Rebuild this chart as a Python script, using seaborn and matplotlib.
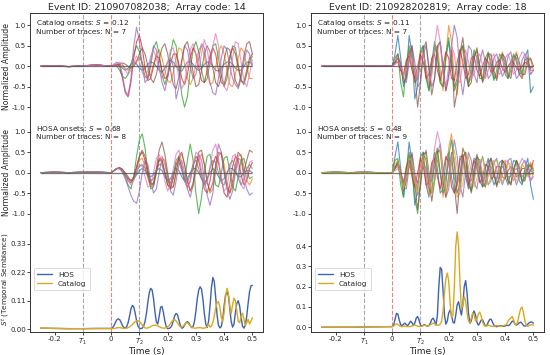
import numpy as np
import pandas as pd
import matplotlib
matplotlib.use("Agg")
import matplotlib.pyplot as plt
import seaborn as sns

sns.set_theme(style="ticks")
plt.rcParams['font.family'] = ['DejaVu Sans']

# ---------------- data ----------------
titles = ["Event ID: 210907082038;  Array code: 14",
          "Event ID: 210928202819;  Array code: 18"]
cat_text = ["Catalog onsets: $S$ = 0.12\nNumber of traces: N = 7",
            "Catalog onsets: $S$ = 0.11\nNumber of traces: N = 7"]
hos_text = ["HOSA onsets: $S$ = 0.68\nNumber of traces: N = 8",
            "HOSA onsets: $S$ = 0.48\nNumber of traces: N = 9"]

t_pre = [-0.25, -0.2, -0.15, -0.1, -0.05]
trace_step = 0.01
n_trace = 51
sem_step = 0.005
n_sem = 101

T1, T0, T2 = -0.1, 0.0, 0.1
xtick_vals = [-0.2, -0.1, 0.0, 0.1, 0.2, 0.3, 0.4, 0.5]
xtick_labels = ["-0.2", "$T_1$", "0", "$T_2$", "0.2", "0.3", "0.4", "0.5"]

pre_LT = [0.0, 0.01, -0.01, 0.01, 0.03]
LT = {
 "blue":   [0, 0.02, 0.05, 0.03, -0.05, -0.1, -0.05, 0.05, 0.1, 0.05, -0.05, -0.1, -0.05, 0.05, 0.1, 0.08, 0.0, -0.1, -0.15, -0.05, 0.1, 0.15, 0.1, 0.0, -0.1, -0.12, 0.0, 0.1, 0.12, 0.05, -0.05, -0.1, -0.05, 0.05, 0.1, 0.1, 0.0, -0.1, -0.12, -0.05, 0.05, 0.1, 0.1, 0.05, -0.05, -0.1, -0.1, 0.0, 0.1, 0.1, 0.05],
 "orange": [0, 0.0, 0.03, 0.05, 0.02, -0.05, -0.1, -0.05, 0.05, 0.15, 0.2, 0.1, -0.1, -0.25, -0.2, 0.05, 0.3, 0.4, 0.2, -0.1, -0.35, -0.4, -0.15, 0.2, 0.45, 0.4, 0.05, -0.3, -0.45, -0.3, 0.05, 0.4, 0.5, 0.25, -0.15, -0.45, -0.4, -0.05, 0.35, 0.5, 0.3, -0.1, -0.45, -0.5, -0.2, 0.2, 0.45, 0.35, 0.0, -0.3, -0.3],
 "green":  [0, 0.02, 0.0, -0.1, -0.25, -0.3, -0.2, 0.05, 0.3, 0.5, 0.35, 0.05, -0.25, -0.3, 0.0, 0.45, 0.6, 0.3, -0.2, -0.45, -0.2, 0.3, 0.65, 0.5, -0.1, -0.7, -1.0, -0.75, -0.1, 0.4, 0.6, 0.35, -0.1, -0.4, -0.3, 0.1, 0.5, 0.55, 0.2, -0.25, -0.5, -0.3, 0.15, 0.5, 0.45, 0.05, -0.35, -0.45, -0.2, 0.1, 0.25],
 "red":    [0, 0.02, 0.05, 0.0, -0.3, -0.65, -0.75, -0.4, 0.2, 0.6, 0.75, 0.45, -0.05, -0.35, -0.3, 0.0, 0.25, 0.2, -0.1, -0.3, -0.25, 0.05, 0.3, 0.3, 0.05, -0.3, -0.45, -0.2, 0.2, 0.45, 0.3, -0.05, -0.35, -0.4, -0.1, 0.25, 0.45, 0.3, -0.1, -0.4, -0.45, -0.15, 0.25, 0.45, 0.3, -0.05, -0.35, -0.4, -0.1, 0.2, 0.3],
 "purple": [0, 0.05, 0.1, 0.05, -0.2, -0.6, -0.7, -0.3, 0.5, 0.95, 0.6, 0.0, -0.4, -0.3, 0.15, 0.5, 0.4, 0.0, -0.4, -0.6, -0.3, 0.2, 0.0, -0.8, -0.5, 0.1, 0.5, 0.4, 0.0, -0.3, -0.2, 0.2, 0.55, 0.45, 0.0, -0.4, -0.65, -0.7, -0.3, 0.2, 0.5, 0.4, 0.0, -0.3, -0.45, -0.55, -0.3, 0.1, 0.4, 0.3, 0.0],
 "brown":  [0, 0.0, 0.02, 0.05, 0.08, 0.05, 0.0, -0.05, 0.0, 0.1, 0.3, 0.45, 0.3, 0.0, -0.3, -0.4, -0.2, 0.15, 0.45, 0.55, 0.3, -0.1, -0.45, -0.55, -0.25, 0.15, 0.5, 0.6, 0.3, -0.15, -0.5, -0.45, -0.1, 0.3, 0.5, 0.35, -0.05, -0.4, -0.5, -0.25, 0.15, 0.45, 0.4, 0.05, -0.35, -0.5, -0.2, 0.25, 0.55, 0.6, 0.3],
 "pink":   [0, 0.02, 0.05, 0.1, 0.05, -0.1, -0.2, -0.1, 0.1, 0.25, 0.1, -0.15, -0.3, -0.1, 0.25, 0.4, 0.2, -0.1, -0.3, -0.2, 0.1, 0.4, 0.45, 0.1, -0.3, -0.55, -0.4, 0.0, 0.4, 0.55, 0.3, -0.1, 0.3, 0.65, 0.4, 0.0, 0.5, 0.8, 0.5, -0.05, -0.5, -0.6, -0.3, 0.2, 0.6, 0.55, 0.1, -0.35, -0.5, -0.2, 0.15],
}

pre_LM = [0.0, 0.01, 0.0, 0.01, 0.01]
LM = {
 "blue":   [0, 0.05, 0.1, 0.1, 0.05, -0.05, -0.15, -0.2, -0.15, -0.05, 0.05, 0.1, 0.05, -0.05, -0.1, -0.05, 0.05, 0.1, 0.05, -0.1, -0.2, -0.15, 0.0, 0.1, 0.05, -0.1, -0.2, -0.15, 0.0, 0.1, 0.1, 0.0, -0.15, -0.25, -0.15, 0.0, 0.1, 0.05, -0.1, -0.2, -0.15, 0.0, 0.1, 0.1, 0.0, -0.1, -0.1, 0.0, 0.05, 0.05, 0.0],
 "orange": [0, 0.04, 0.1, 0.12, 0.06, -0.05, -0.15, -0.2, -0.1, 0.1, 0.3, 0.35, 0.15, -0.15, -0.35, -0.3, 0.0, 0.3, 0.4, 0.2, -0.15, -0.4, -0.35, 0.0, 0.35, 0.45, 0.2, -0.2, -0.45, -0.35, 0.0, 0.35, 0.45, 0.2, -0.2, -0.5, -0.4, 0.0, 0.4, 0.5, 0.2, -0.25, -0.5, -0.35, 0.05, 0.4, 0.45, 0.15, -0.2, -0.3, -0.15],
 "green":  [0, 0.05, 0.1, 0.1, 0.05, -0.1, -0.3, -0.4, -0.1, 0.4, 0.8, 0.95, 0.6, 0.0, -0.4, -0.35, 0.0, 0.3, 0.3, 0.0, -0.3, -0.35, -0.05, 0.3, 0.4, 0.1, -0.2, 0.3, 0.7, 0.3, -0.5, -1.0, -0.6, 0.0, 0.4, 0.45, 0.1, -0.3, -0.35, 0.0, 0.35, 0.4, 0.05, -0.35, -0.45, -0.1, 0.3, 0.35, 0.05, -0.15, -0.1],
 "red":    [0, 0.05, 0.1, 0.12, 0.08, -0.05, -0.2, -0.25, -0.1, 0.15, 0.4, 0.5, 0.3, -0.05, -0.3, -0.25, 0.05, 0.35, 0.3, 0.0, -0.3, -0.4, -0.15, 0.2, 0.35, 0.15, -0.2, -0.35, -0.2, 0.15, 0.4, 0.3, -0.05, -0.4, -0.5, -0.2, 0.2, 0.4, 0.25, -0.15, -0.5, -0.6, -0.3, 0.15, 0.4, 0.3, -0.05, -0.3, -0.2, 0.1, 0.25],
 "purple": [0, 0.05, 0.1, 0.1, 0.0, -0.15, -0.35, -0.55, -0.7, -0.75, -0.45, 0.0, 0.3, 0.2, -0.2, -0.5, -0.4, 0.0, 0.35, 0.3, -0.1, -0.45, -0.55, -0.2, 0.2, 0.3, 0.0, -0.4, -0.6, -0.3, 0.15, 0.45, 0.3, -0.15, -0.55, -0.8, -0.5, 0.2, 0.7, 0.5, 0.0, -0.4, -0.65, -0.45, 0.0, 0.35, 0.3, -0.1, -0.4, -0.55, -0.5],
 "brown":  [0, 0.05, 0.1, 0.12, 0.08, 0.0, -0.1, -0.2, -0.15, 0.1, 0.4, 0.55, 0.4, 0.05, -0.25, -0.3, 0.1, 0.55, 0.75, 0.45, 0.0, -0.35, -0.35, 0.0, 0.4, 0.5, 0.2, -0.2, -0.45, -0.25, 0.15, 0.5, 0.55, 0.2, -0.25, -0.45, -0.25, 0.15, 0.5, 0.45, 0.05, -0.35, -0.5, -0.2, 0.2, 0.5, 0.4, 0.0, 0.3, 0.55, 0.5],
 "pink":   [0, 0.05, 0.1, 0.1, 0.05, -0.05, -0.2, -0.3, -0.2, 0.05, 0.2, 0.15, -0.1, -0.35, -0.3, 0.0, 0.35, 0.45, 0.2, -0.2, -0.45, -0.3, 0.1, 0.45, 0.55, 0.2, -0.2, -0.4, -0.2, 0.2, 0.5, 0.45, 0.05, -0.3, -0.25, 0.15, 0.55, 0.7, 0.35, -0.15, -0.45, -0.35, 0.05, 0.4, 0.45, 0.1, -0.3, -0.4, -0.1, 0.25, 0.3],
 "grey":   [0, 0.05, 0.1, 0.1, 0.05, -0.05, -0.15, -0.2, -0.15, 0.0, 0.15, 0.2, 0.1, -0.1, -0.2, -0.15, 0.05, 0.2, 0.2, 0.0, -0.2, -0.25, -0.05, 0.2, 0.25, 0.05, -0.2, -0.25, -0.05, 0.2, 0.3, 0.1, -0.15, -0.3, -0.15, 0.1, 0.3, 0.25, 0.0, -0.25, -0.3, -0.05, 0.2, 0.3, 0.1, -0.15, -0.3, -0.15, 0.1, 0.2, 0.1],
}

pre_RT = [0.0, 0.0, 0.01, 0.0, 0.01]
RT = {
 "blue":   [0, 0.3, 0.75, 0.2, -0.5, -0.2, 0.75, 0.3, -0.8, -0.5, 0.3, 0.5, -0.2, -0.6, 0.0, 0.5, 0.2, -0.4, -0.5, 0.2, 0.6, 0.0, -0.5, -0.3, 0.3, 0.5, 0.0, -0.4, -0.2, 0.3, 0.35, -0.1, -0.35, 0.0, 0.3, 0.1, -0.3, -0.25, 0.15, 0.3, 0.0, -0.3, -0.1, 0.25, 0.2, -0.2, -0.3, 0.2, 0.4, -0.65, -0.5],
 "orange": [0, 0.1, 0.2, -0.1, -0.3, 0.1, 0.4, 0.0, -0.4, -0.2, 0.3, 0.4, -0.1, -0.5, -0.2, 0.4, 0.5, -0.1, -0.6, 0.2, 1.0, 0.6, -0.3, -0.7, 0.0, 0.5, 0.2, -0.4, -0.3, 0.2, 0.4, 0.0, -0.35, -0.1, 0.3, 0.25, -0.2, -0.3, 0.1, 0.35, 0.1, -0.25, -0.2, 0.2, 0.35, 0.0, -0.3, -0.1, 0.25, 0.15, -0.1],
 "green":  [0, 0.2, 0.3, -0.4, -0.75, 0.0, 0.5, 0.2, -0.4, -0.3, 0.4, 0.5, -0.3, -0.6, 0.1, 0.6, 0.3, -0.4, -0.5, 0.3, 0.7, 0.1, -0.6, -0.4, 0.4, 0.5, -0.2, -0.5, 0.0, 0.4, 0.2, -0.3, -0.3, 0.2, 0.35, 0.0, -0.35, -0.1, 0.3, 0.2, -0.2, -0.3, 0.1, 0.3, 0.1, -0.2, -0.15, 0.15, 0.2, -0.1, -0.1],
 "red":    [0, 0.1, 0.1, -0.1, -0.2, 0.15, 0.25, -0.1, -0.3, 0.0, 0.3, 0.1, -0.3, -0.2, 0.2, 0.3, -0.1, -0.35, 0.0, 0.35, 0.2, -0.3, -0.35, 0.1, 0.4, 0.1, -0.3, -0.2, 0.2, 0.25, -0.1, -0.25, 0.0, 0.2, 0.1, -0.15, -0.1, 0.1, 0.15, -0.05, -0.15, 0.0, 0.1, 0.1, -0.05, -0.1, 0.0, 0.1, 0.05, -0.05, 0.0],
 "purple": [0, 0.05, 0.2, 0.1, -0.3, -0.4, 0.1, 0.5, 0.1, -0.5, -0.4, 0.3, 0.5, 0.0, -0.5, -0.3, 0.4, 0.6, 0.0, -0.6, -0.3, 0.5, 1.0, 0.7, -0.2, -0.7, -0.2, 0.5, 0.4, -0.2, -0.4, 0.1, 0.4, 0.1, -0.3, -0.2, 0.2, 0.3, 0.0, -0.25, -0.1, 0.25, 0.35, 0.0, -0.3, -0.2, 0.15, 0.3, 0.1, -0.2, -0.1],
 "brown":  [0, 0.1, 0.3, 0.0, -0.4, -0.3, 0.3, 0.5, -0.2, -1.0, -0.4, 0.4, 0.6, -0.1, -0.7, -0.3, 0.5, 0.6, -0.1, -0.6, -0.2, 0.4, -1.0, -0.6, 0.3, 0.7, 0.1, -0.5, -0.4, 0.2, 0.45, 0.0, -0.4, -0.2, 0.3, 0.3, -0.1, -0.35, 0.0, 0.3, 0.2, -0.2, -0.3, 0.1, 0.3, 0.1, -0.2, -0.2, 0.1, 0.2, 0.0],
 "pink":   [0, 0.05, 0.1, 0.0, -0.2, -0.1, 0.2, 0.2, -0.2, -0.3, 0.1, 0.3, 0.0, -0.4, -0.2, 0.5, 1.0, 0.6, -0.2, -0.5, 0.0, 0.5, 0.3, -0.3, -0.4, 0.1, 0.4, 0.1, -0.3, -0.2, 0.2, 0.3, 0.0, -0.3, -0.1, 0.2, 0.3, 0.0, -0.2, -0.1, 0.2, 0.3, 0.1, -0.2, -0.1, 0.2, 0.35, 0.3, 0.0, -0.2, -0.1],
}

pre_RM = [0.0, 0.01, 0.0, 0.01, 0.0]
RM = {
 "blue":   [0, 0.4, 0.75, 0.1, -0.6, 0.0, 0.75, 0.2, -0.8, -0.4, 0.4, 0.5, -0.3, -0.6, 0.1, 0.5, 0.1, -0.5, -0.4, 0.3, 0.5, -0.1, -0.5, -0.2, 0.4, 0.4, -0.1, -0.4, 0.0, 0.35, 0.3, -0.2, -0.35, 0.1, 0.35, 0.0, -0.3, -0.15, 0.25, 0.3, -0.1, -0.3, 0.0, 0.3, 0.25, -0.2, -0.3, 0.1, 0.35, -0.3, -0.65],
 "orange": [0, 0.1, 0.25, 0.0, -0.35, 0.0, 0.4, 0.1, -0.4, -0.3, 0.3, 0.45, -0.1, -0.55, -0.2, 0.4, 0.55, 0.0, -0.6, -0.1, 0.6, 0.95, 0.2, -0.6, -0.5, 0.3, 0.5, -0.1, -0.45, -0.1, 0.35, 0.3, -0.2, -0.35, 0.1, 0.35, 0.05, -0.3, -0.15, 0.25, 0.3, -0.1, -0.3, 0.0, 0.3, 0.15, -0.2, -0.15, 0.15, 0.25, 0.1],
 "green":  [0, 0.3, 0.35, -0.3, -0.6, 0.1, 0.5, 0.0, -0.6, -1.0, -0.2, 0.5, 0.3, -0.4, -0.5, 0.3, 0.6, 0.0, -0.5, -0.3, 0.4, 0.8, 0.2, -0.5, -0.3, 0.4, 0.5, -0.1, -0.5, -0.1, 0.4, 0.3, -0.25, -0.35, 0.1, 0.35, 0.0, -0.3, -0.1, 0.3, 0.2, -0.2, -0.25, 0.1, 0.3, 0.05, -0.25, -0.1, 0.2, 0.15, -0.05],
 "red":    [0, 0.15, 0.2, -0.1, -0.25, 0.15, 0.3, -0.1, -0.35, 0.0, 0.35, 0.15, -0.3, -0.25, 0.25, 0.35, -0.1, -0.4, 0.0, 0.4, 0.25, -0.35, -0.5, -0.3, 0.3, 0.45, 0.0, -0.3, 0.0, 0.3, 0.1, -0.25, -0.1, 0.2, 0.15, -0.15, -0.1, 0.15, 0.15, -0.1, -0.15, 0.05, 0.15, 0.05, -0.1, -0.05, 0.1, 0.1, -0.05, 0.05, 0.3],
 "purple": [0, 0.1, 0.25, 0.05, -0.35, -0.4, 0.15, 0.5, 0.0, -0.55, -0.35, 0.3, 0.55, 0.0, -0.5, -0.2, 0.45, 0.7, 0.1, -0.6, -0.4, 0.3, 0.8, 0.4, -0.3, -0.6, 0.0, 0.5, 0.3, -0.25, -0.4, 0.1, 0.4, 0.1, -0.3, -0.2, 0.25, 0.35, 0.0, -0.3, -0.1, 0.3, 0.35, -0.05, -0.3, -0.1, 0.2, 0.3, 0.05, -0.2, -0.1],
 "brown":  [0, 0.1, 0.3, -0.05, -0.45, -0.2, 0.35, 0.45, -0.3, -0.9, -0.3, 0.45, 0.5, -0.2, -0.7, -0.2, 0.5, 0.55, -0.2, -0.6, -0.1, 0.5, -0.3, -1.0, -0.1, 0.6, 0.4, -0.3, -0.45, 0.1, 0.45, 0.1, -0.35, -0.25, 0.25, 0.35, -0.05, -0.35, -0.05, 0.3, 0.2, -0.2, -0.3, 0.05, 0.3, 0.1, -0.2, -0.2, 0.1, 0.2, 0.05],
 "pink":   [0, 0.05, 0.1, -0.05, -0.2, -0.05, 0.2, 0.15, -0.25, -0.3, 0.15, 0.3, -0.05, -0.4, -0.1, 0.6, 1.0, 0.7, -0.1, -0.5, -0.1, 0.45, 0.35, -0.25, -0.45, 0.05, 0.4, 0.15, -0.3, -0.25, 0.2, 0.3, 0.0, -0.3, -0.1, 0.25, 0.3, 0.0, -0.25, -0.05, 0.25, 0.3, 0.05, -0.2, -0.05, 0.2, 0.35, 0.25, -0.05, -0.2, 0.0],
 "grey":   [0, 0.1, 0.15, 0.0, -0.2, -0.1, 0.15, 0.2, -0.1, -0.25, 0.0, 0.25, 0.1, -0.2, -0.2, 0.15, 0.3, 0.0, -0.3, -0.1, 0.3, 0.3, -0.15, -0.3, 0.0, 0.3, 0.15, -0.2, -0.2, 0.1, 0.25, 0.0, -0.2, -0.1, 0.15, 0.15, -0.1, -0.15, 0.05, 0.15, 0.05, -0.1, -0.1, 0.05, 0.1, 0.0, -0.1, 0.0, 0.1, 0.05, 0.0],
 "olive":  [0, 0.2, 0.3, -0.1, -0.4, -0.1, 0.35, 0.3, -0.2, -0.5, -0.1, 0.4, 0.45, -0.1, -0.5, -0.2, 0.4, 0.55, 0.0, -0.5, -0.3, 0.3, 0.55, 0.1, -0.4, -0.3, 0.25, 0.4, 0.0, -0.35, -0.15, 0.3, 0.35, -0.05, -0.3, -0.1, 0.25, 0.3, 0.0, -0.25, -0.05, 0.25, 0.2, -0.1, -0.2, 0.05, 0.2, 0.1, -0.1, -0.05, 0.05],
}

# temporal semblance (step 0.005 from t=0) with pre-onset samples
sem_pre_L_hos = [0.004, 0.003, 0.002, 0.002, 0.003]
sem_pre_L_cat = [0.004, 0.003, 0.002, 0.002, 0.002]
sem_pre_R_hos = [0.0, 0.0, 0.0, 0.001, 0.002]
sem_pre_R_cat = [0.0, 0.0, 0.0, 0.001, 0.002]

L_hos = [0.003, 0.006, 0.014, 0.026, 0.036, 0.040, 0.037, 0.027, 0.014, 0.006,
         0.004, 0.010, 0.025, 0.050, 0.078, 0.092, 0.086, 0.062, 0.033, 0.012,
         0.004, 0.002, 0.004, 0.012, 0.030, 0.062, 0.105, 0.142, 0.158, 0.152,
         0.118, 0.068, 0.028, 0.020, 0.050, 0.085, 0.088, 0.065, 0.032, 0.010,
         0.002, 0.003, 0.006, 0.015, 0.032, 0.052, 0.061, 0.055, 0.035, 0.014,
         0.004, 0.006, 0.016, 0.026, 0.029, 0.024, 0.014, 0.006, 0.010, 0.030,
         0.070, 0.118, 0.152, 0.164, 0.155, 0.115, 0.060, 0.020, 0.006, 0.030,
         0.090, 0.160, 0.200, 0.185, 0.125, 0.055, 0.015, 0.005, 0.010, 0.040,
         0.090, 0.132, 0.145, 0.130, 0.080, 0.030, 0.008, 0.020, 0.065, 0.100,
         0.110, 0.090, 0.045, 0.012, 0.004, 0.015, 0.050, 0.100, 0.145, 0.168,
         0.170]
L_cat = [0.002, 0.002, 0.003, 0.004, 0.005, 0.006, 0.006, 0.005, 0.004, 0.003,
         0.003, 0.004, 0.006, 0.009, 0.013, 0.018, 0.024, 0.029, 0.032, 0.033,
         0.030, 0.024, 0.016, 0.009, 0.005, 0.004, 0.005, 0.007, 0.010, 0.013,
         0.015, 0.016, 0.015, 0.013, 0.010, 0.007, 0.005, 0.004, 0.004, 0.006,
         0.009, 0.014, 0.022, 0.030, 0.036, 0.037, 0.032, 0.024, 0.015, 0.009,
         0.008, 0.012, 0.018, 0.024, 0.025, 0.020, 0.013, 0.008, 0.005, 0.004,
         0.004, 0.005, 0.006, 0.006, 0.005, 0.004, 0.004, 0.006, 0.010, 0.020,
         0.008, 0.012, 0.025, 0.050, 0.082, 0.102, 0.107, 0.085, 0.045, 0.030,
         0.065, 0.125, 0.158, 0.140, 0.090, 0.060, 0.095, 0.120, 0.110, 0.070,
         0.030, 0.025, 0.050, 0.062, 0.040, 0.015, 0.025, 0.038, 0.020, 0.030,
         0.044]
R_hos = [0.003, 0.010, 0.040, 0.068, 0.065, 0.035, 0.012, 0.008, 0.015, 0.020,
         0.012, 0.008, 0.018, 0.030, 0.022, 0.010, 0.020, 0.045, 0.053, 0.035,
         0.012, 0.005, 0.010, 0.013, 0.008, 0.004, 0.008, 0.020, 0.038, 0.045,
         0.030, 0.010, 0.060, 0.200, 0.295, 0.285, 0.180, 0.060, 0.015, 0.030,
         0.070, 0.085, 0.060, 0.025, 0.020, 0.060, 0.110, 0.126, 0.090, 0.060,
         0.110, 0.200, 0.230, 0.170, 0.070, 0.020, 0.030, 0.065, 0.080, 0.060,
         0.025, 0.010, 0.020, 0.035, 0.037, 0.020, 0.006, 0.008, 0.025, 0.038,
         0.040, 0.025, 0.010, 0.004, 0.003, 0.004, 0.006, 0.008, 0.006, 0.004,
         0.006, 0.010, 0.008, 0.010, 0.020, 0.030, 0.028, 0.015, 0.010, 0.015,
         0.022, 0.025, 0.018, 0.008, 0.005, 0.008, 0.015, 0.022, 0.026, 0.025,
         0.020]
R_cat = [0.003, 0.006, 0.012, 0.016, 0.014, 0.008, 0.004, 0.003, 0.004, 0.005,
         0.004, 0.003, 0.003, 0.004, 0.006, 0.008, 0.010, 0.008, 0.005, 0.004,
         0.004, 0.005, 0.008, 0.010, 0.008, 0.006, 0.008, 0.012, 0.016, 0.020,
         0.018, 0.012, 0.010, 0.010, 0.015, 0.030, 0.080, 0.170, 0.240, 0.267,
         0.230, 0.120, 0.045, 0.060, 0.200, 0.400, 0.470, 0.400, 0.220, 0.090,
         0.110, 0.150, 0.130, 0.070, 0.030, 0.020, 0.045, 0.070, 0.060, 0.030,
         0.040, 0.065, 0.075, 0.055, 0.025, 0.010, 0.005, 0.007, 0.010, 0.008,
         0.005, 0.004, 0.004, 0.006, 0.008, 0.007, 0.005, 0.004, 0.006, 0.008,
         0.010, 0.015, 0.030, 0.040, 0.045, 0.053, 0.035, 0.015, 0.012, 0.030,
         0.065, 0.092, 0.099, 0.070, 0.030, 0.008, 0.004, 0.008, 0.012, 0.013,
         0.010]

trace_colors = {"blue": "#1f77b4", "orange": "#ff7f0e", "green": "#2ca02c",
                "red": "#d62728", "purple": "#9467bd", "brown": "#8c564b",
                "pink": "#e377c2", "grey": "#7f7f7f", "olive": "#bcbd22"}
hos_color = "#3f62b0"
cat_color = "#dba91f"

# ---------------- helpers ----------------
t_post = np.round(np.arange(n_trace) * trace_step, 4)
t_sem = np.round(np.arange(n_sem) * sem_step, 4)


def traces_df(traces, pre):
    rows = []
    for name, vals in traces.items():
        tt = list(t_pre) + list(t_post)
        vv = list(pre) + list(vals)
        rows.append(pd.DataFrame({"t": tt, "v": vv, "trace": name}))
    return pd.concat(rows, ignore_index=True)


def sem_df(pre_h, hos, pre_c, cat):
    a = pd.DataFrame({"t": list(t_pre) + list(t_sem), "v": list(pre_h) + list(hos), "method": "HOS"})
    b = pd.DataFrame({"t": list(t_pre) + list(t_sem), "v": list(pre_c) + list(cat), "method": "Catalog"})
    return pd.concat([a, b], ignore_index=True)


def vlines(ax):
    ax.axvline(T1, color="gray", ls="--", lw=0.8, alpha=0.7, zorder=0)
    ax.axvline(T0, color="#d9534f", ls="--", lw=0.8, alpha=0.7, zorder=0)
    ax.axvline(T2, color="gray", ls="--", lw=0.8, alpha=0.7, zorder=0)


fig = plt.figure(figsize=(5.5, 3.55), dpi=100)
lefts = [0.0545, 0.5655]
width = 0.4236
bottom = 0.064
h = 0.2998
ylabel_x = -0.082

panels = [(LT, pre_LT, LM, pre_LM, L_hos, sem_pre_L_hos, L_cat, sem_pre_L_cat),
          (RT, pre_RT, RM, pre_RM, R_hos, sem_pre_R_hos, R_cat, sem_pre_R_cat)]

fs_tick = 5.0
for col, (tA, pA, tB, pB, sh, psh, sc, psc) in enumerate(panels):
    ax_top = fig.add_axes([lefts[col], bottom + 2 * h, width, h])
    ax_mid = fig.add_axes([lefts[col], bottom + h, width, h], sharex=ax_top)
    ax_bot = fig.add_axes([lefts[col], bottom, width, h], sharex=ax_top)

    for ax, tr, pre, txt in [(ax_top, tA, pA, cat_text[col]), (ax_mid, tB, pB, hos_text[col])]:
        df = traces_df(tr, pre)
        pal = {k: trace_colors[k] for k in tr}
        sns.lineplot(data=df, x="t", y="v", hue="trace", palette=pal, ax=ax,
                     legend=False, lw=0.8, alpha=0.75, estimator=None, sort=False)
        ax.hlines(0, t_pre[0], t_post[-1], color="#555555", lw=0.9, alpha=0.8, zorder=3)
        vlines(ax)
        ax.set_ylim(-1.3, 1.3)
        ax.set_yticks([-1.0, -0.5, 0.0, 0.5, 1.0])
        ax.set_yticklabels(["-1.0", "-0.5", "0.0", "0.5", "1.0"])
        ax.text(0.025, 0.955, txt, transform=ax.transAxes, va="top", ha="left",
                fontsize=5.3, linespacing=1.15)
        ax.tick_params(axis="x", bottom=False, labelbottom=False)
        ax.set_xlabel("")
        ax.set_ylabel("Normalized Amplitude" if col == 0 else "", fontsize=5.6)
        ax.yaxis.set_label_coords(ylabel_x, 0.5)

    sdf = sem_df(psh, sh, psc, sc)
    sns.lineplot(data=sdf, x="t", y="v", hue="method",
                 palette={"HOS": hos_color, "Catalog": cat_color}, ax=ax_bot,
                 lw=1.0, estimator=None, sort=False)
    vlines(ax_bot)
    leg = ax_bot.legend(loc="center left", fontsize=5.3, frameon=True,
                        handlelength=2.0, borderpad=0.5, labelspacing=0.4)
    leg.get_frame().set_linewidth(0.6)
    if col == 0:
        ax_bot.set_ylim(-0.012, 0.40)
        ax_bot.set_yticks([0.0, 0.11, 0.22, 0.33])
        ax_bot.set_yticklabels(["0.00", "0.11", "0.22", "0.33"])
        ax_bot.set_ylabel("$S^t$ (Temporal Semblance)", fontsize=5.2)
        ax_bot.yaxis.set_label_coords(ylabel_x, 0.5)
    else:
        ax_bot.set_ylim(-0.025, 0.5)
        ax_bot.set_yticks([0.0, 0.1, 0.2, 0.3, 0.4])
        ax_bot.set_yticklabels(["0.0", "0.1", "0.2", "0.3", "0.4"])
        ax_bot.set_ylabel("")
    ax_bot.set_xlim(-0.2875, 0.5375)
    ax_bot.set_xticks(xtick_vals)
    ax_bot.set_xticklabels(xtick_labels)
    ax_bot.set_xlabel("Time (s)", fontsize=6.5, labelpad=0.5)

    ax_top.spines["bottom"].set_visible(False)
    ax_mid.spines["top"].set_visible(False)
    ax_mid.spines["bottom"].set_visible(False)
    ax_bot.spines["top"].set_visible(False)
    for ax in (ax_top, ax_mid, ax_bot):
        ax.tick_params(axis="both", labelsize=fs_tick, length=2.0, width=0.6, pad=1.0)
        for s in ax.spines.values():
            s.set_linewidth(0.7)
            s.set_color("#333333")
        ax.patch.set_alpha(0)
    ax_top.set_title(titles[col], fontsize=6.8, pad=2.5)

fig.savefig("out.png", dpi=100)
